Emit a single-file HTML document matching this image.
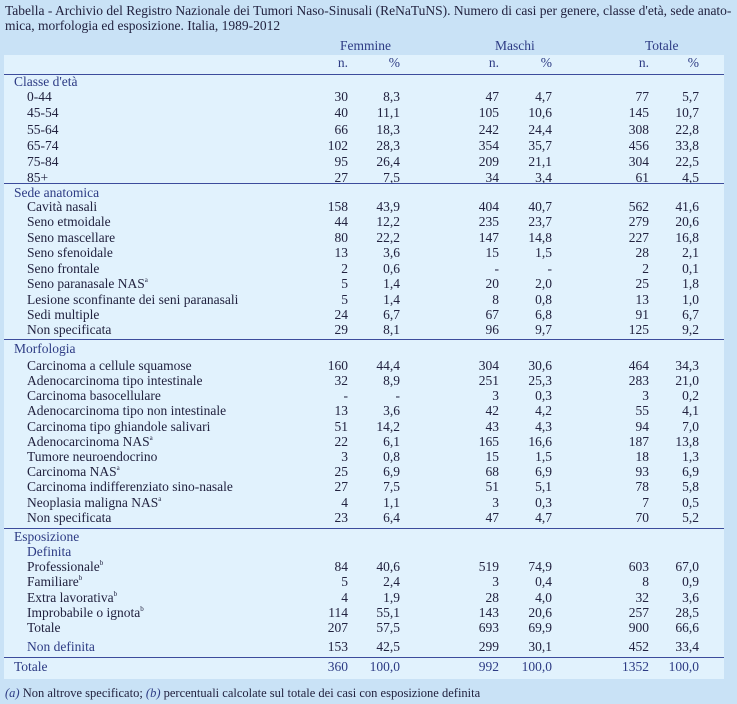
<!DOCTYPE html>
<html><head><meta charset="utf-8"><style>
*{margin:0;padding:0;box-sizing:border-box}
body{width:737px;height:704px;background:#c9e2f6;font-family:"Liberation Serif",serif;color:#22223f;position:relative;overflow:hidden}
.t{position:absolute;left:5px;font-size:13.5px;line-height:15px;color:#22223f;white-space:nowrap}
.panel{position:absolute;left:4px;top:55px;width:720px;height:624px;background:#e1f2fd}
.ln{position:absolute;left:4px;width:720px;height:1px;background:#3c4c9c}
.r{position:absolute;left:0;width:737px;height:16px;line-height:16px;font-size:13.5px;white-space:nowrap}
.r span{position:absolute;text-align:right;width:60px}
.r .l{text-align:left;width:auto;left:27px}
.r .h{text-align:left;width:auto;left:14px;color:#2d3b84}
.a{right:389px}.b{right:337px}.c{right:238px}.d{right:185px}.e{right:88px}.f{right:38px}
sup{font-size:7px;vertical-align:baseline;position:relative;top:-6px;line-height:0}
.bl{color:#2d3b84}
</style></head><body>
<div class="t" style="top:3px">Tabella - Archivio del Registro Nazionale dei Tumori Naso-Sinusali (ReNaTuNS). Numero di casi per genere, classe d'età, sede anato-</div>
<div class="t" style="top:18px">mica, morfologia ed esposizione. Italia, 1989-2012</div>
<div class="panel"></div>
<div class="r bl" style="top:38px"><span style="left:340px;width:auto">Femmine</span><span style="left:495px;width:auto">Maschi</span><span style="left:645px;width:auto">Totale</span></div>
<div class="r bl" style="top:55px"><span class="a">n.</span><span class="b">%</span><span class="c">n.</span><span class="d">%</span><span class="e">n.</span><span class="f">%</span></div>
<div class="ln" style="top:74px"></div>
<div class="r" style="top:74px"><span class="h">Classe d'età</span></div>
<div class="r" style="top:89px"><span class="l">0-44</span><span class="a">30</span><span class="b">8,3</span><span class="c">47</span><span class="d">4,7</span><span class="e">77</span><span class="f">5,7</span></div>
<div class="r" style="top:105px"><span class="l">45-54</span><span class="a">40</span><span class="b">11,1</span><span class="c">105</span><span class="d">10,6</span><span class="e">145</span><span class="f">10,7</span></div>
<div class="r" style="top:122px"><span class="l">55-64</span><span class="a">66</span><span class="b">18,3</span><span class="c">242</span><span class="d">24,4</span><span class="e">308</span><span class="f">22,8</span></div>
<div class="r" style="top:138px"><span class="l">65-74</span><span class="a">102</span><span class="b">28,3</span><span class="c">354</span><span class="d">35,7</span><span class="e">456</span><span class="f">33,8</span></div>
<div class="r" style="top:154px"><span class="l">75-84</span><span class="a">95</span><span class="b">26,4</span><span class="c">209</span><span class="d">21,1</span><span class="e">304</span><span class="f">22,5</span></div>
<div class="r" style="top:170px"><span class="l">85+</span><span class="a">27</span><span class="b">7,5</span><span class="c">34</span><span class="d">3,4</span><span class="e">61</span><span class="f">4,5</span></div>
<div class="ln" style="top:183px"></div>
<div class="r" style="top:185px"><span class="h">Sede anatomica</span></div>
<div class="r" style="top:199px"><span class="l">Cavità nasali</span><span class="a">158</span><span class="b">43,9</span><span class="c">404</span><span class="d">40,7</span><span class="e">562</span><span class="f">41,6</span></div>
<div class="r" style="top:214px"><span class="l">Seno etmoidale</span><span class="a">44</span><span class="b">12,2</span><span class="c">235</span><span class="d">23,7</span><span class="e">279</span><span class="f">20,6</span></div>
<div class="r" style="top:230px"><span class="l">Seno mascellare</span><span class="a">80</span><span class="b">22,2</span><span class="c">147</span><span class="d">14,8</span><span class="e">227</span><span class="f">16,8</span></div>
<div class="r" style="top:245px"><span class="l">Seno sfenoidale</span><span class="a">13</span><span class="b">3,6</span><span class="c">15</span><span class="d">1,5</span><span class="e">28</span><span class="f">2,1</span></div>
<div class="r" style="top:261px"><span class="l">Seno frontale</span><span class="a">2</span><span class="b">0,6</span><span class="c">-</span><span class="d">-</span><span class="e">2</span><span class="f">0,1</span></div>
<div class="r" style="top:276px"><span class="l">Seno paranasale NAS<sup>a</sup></span><span class="a">5</span><span class="b">1,4</span><span class="c">20</span><span class="d">2,0</span><span class="e">25</span><span class="f">1,8</span></div>
<div class="r" style="top:292px"><span class="l">Lesione sconfinante dei seni paranasali</span><span class="a">5</span><span class="b">1,4</span><span class="c">8</span><span class="d">0,8</span><span class="e">13</span><span class="f">1,0</span></div>
<div class="r" style="top:307px"><span class="l">Sedi multiple</span><span class="a">24</span><span class="b">6,7</span><span class="c">67</span><span class="d">6,8</span><span class="e">91</span><span class="f">6,7</span></div>
<div class="r" style="top:322px"><span class="l">Non specificata</span><span class="a">29</span><span class="b">8,1</span><span class="c">96</span><span class="d">9,7</span><span class="e">125</span><span class="f">9,2</span></div>
<div class="ln" style="top:339px"></div>
<div class="r" style="top:341px"><span class="h">Morfologia</span></div>
<div class="r" style="top:358px"><span class="l">Carcinoma a cellule squamose</span><span class="a">160</span><span class="b">44,4</span><span class="c">304</span><span class="d">30,6</span><span class="e">464</span><span class="f">34,3</span></div>
<div class="r" style="top:373px"><span class="l">Adenocarcinoma tipo intestinale</span><span class="a">32</span><span class="b">8,9</span><span class="c">251</span><span class="d">25,3</span><span class="e">283</span><span class="f">21,0</span></div>
<div class="r" style="top:388px"><span class="l">Carcinoma basocellulare</span><span class="a">-</span><span class="b">-</span><span class="c">3</span><span class="d">0,3</span><span class="e">3</span><span class="f">0,2</span></div>
<div class="r" style="top:403px"><span class="l">Adenocarcinoma tipo non intestinale</span><span class="a">13</span><span class="b">3,6</span><span class="c">42</span><span class="d">4,2</span><span class="e">55</span><span class="f">4,1</span></div>
<div class="r" style="top:419px"><span class="l">Carcinoma tipo ghiandole salivari</span><span class="a">51</span><span class="b">14,2</span><span class="c">43</span><span class="d">4,3</span><span class="e">94</span><span class="f">7,0</span></div>
<div class="r" style="top:434px"><span class="l">Adenocarcinoma NAS<sup>a</sup></span><span class="a">22</span><span class="b">6,1</span><span class="c">165</span><span class="d">16,6</span><span class="e">187</span><span class="f">13,8</span></div>
<div class="r" style="top:449px"><span class="l">Tumore neuroendocrino</span><span class="a">3</span><span class="b">0,8</span><span class="c">15</span><span class="d">1,5</span><span class="e">18</span><span class="f">1,3</span></div>
<div class="r" style="top:464px"><span class="l">Carcinoma NAS<sup>a</sup></span><span class="a">25</span><span class="b">6,9</span><span class="c">68</span><span class="d">6,9</span><span class="e">93</span><span class="f">6,9</span></div>
<div class="r" style="top:479px"><span class="l">Carcinoma indifferenziato sino-nasale</span><span class="a">27</span><span class="b">7,5</span><span class="c">51</span><span class="d">5,1</span><span class="e">78</span><span class="f">5,8</span></div>
<div class="r" style="top:495px"><span class="l">Neoplasia maligna NAS<sup>a</sup></span><span class="a">4</span><span class="b">1,1</span><span class="c">3</span><span class="d">0,3</span><span class="e">7</span><span class="f">0,5</span></div>
<div class="r" style="top:510px"><span class="l">Non specificata</span><span class="a">23</span><span class="b">6,4</span><span class="c">47</span><span class="d">4,7</span><span class="e">70</span><span class="f">5,2</span></div>
<div class="ln" style="top:528px"></div>
<div class="r" style="top:529px"><span class="h">Esposizione</span></div>
<div class="r" style="top:544px"><span class="l bl">Definita</span></div>
<div class="r" style="top:559px"><span class="l">Professionale<sup>b</sup></span><span class="a">84</span><span class="b">40,6</span><span class="c">519</span><span class="d">74,9</span><span class="e">603</span><span class="f">67,0</span></div>
<div class="r" style="top:574px"><span class="l">Familiare<sup>b</sup></span><span class="a">5</span><span class="b">2,4</span><span class="c">3</span><span class="d">0,4</span><span class="e">8</span><span class="f">0,9</span></div>
<div class="r" style="top:590px"><span class="l">Extra lavorativa<sup>b</sup></span><span class="a">4</span><span class="b">1,9</span><span class="c">28</span><span class="d">4,0</span><span class="e">32</span><span class="f">3,6</span></div>
<div class="r" style="top:605px"><span class="l">Improbabile o ignota<sup>b</sup></span><span class="a">114</span><span class="b">55,1</span><span class="c">143</span><span class="d">20,6</span><span class="e">257</span><span class="f">28,5</span></div>
<div class="r" style="top:620px"><span class="l">Totale</span><span class="a">207</span><span class="b">57,5</span><span class="c">693</span><span class="d">69,9</span><span class="e">900</span><span class="f">66,6</span></div>
<div class="r" style="top:639px"><span class="l bl">Non definita</span><span class="a">153</span><span class="b">42,5</span><span class="c">299</span><span class="d">30,1</span><span class="e">452</span><span class="f">33,4</span></div>
<div class="ln" style="top:657px"></div>
<div class="r bl" style="top:659px"><span class="h">Totale</span><span class="a">360</span><span class="b">100,0</span><span class="c">992</span><span class="d">100,0</span><span class="e">1352</span><span class="f">100,0</span></div>
<div class="r" style="top:685px;font-size:12.5px"><span class="l" style="left:5px"><i class="bl">(a)</i> Non altrove specificato; <i class="bl">(b)</i> percentuali calcolate sul totale dei casi con esposizione definita</span></div>
</body></html>
